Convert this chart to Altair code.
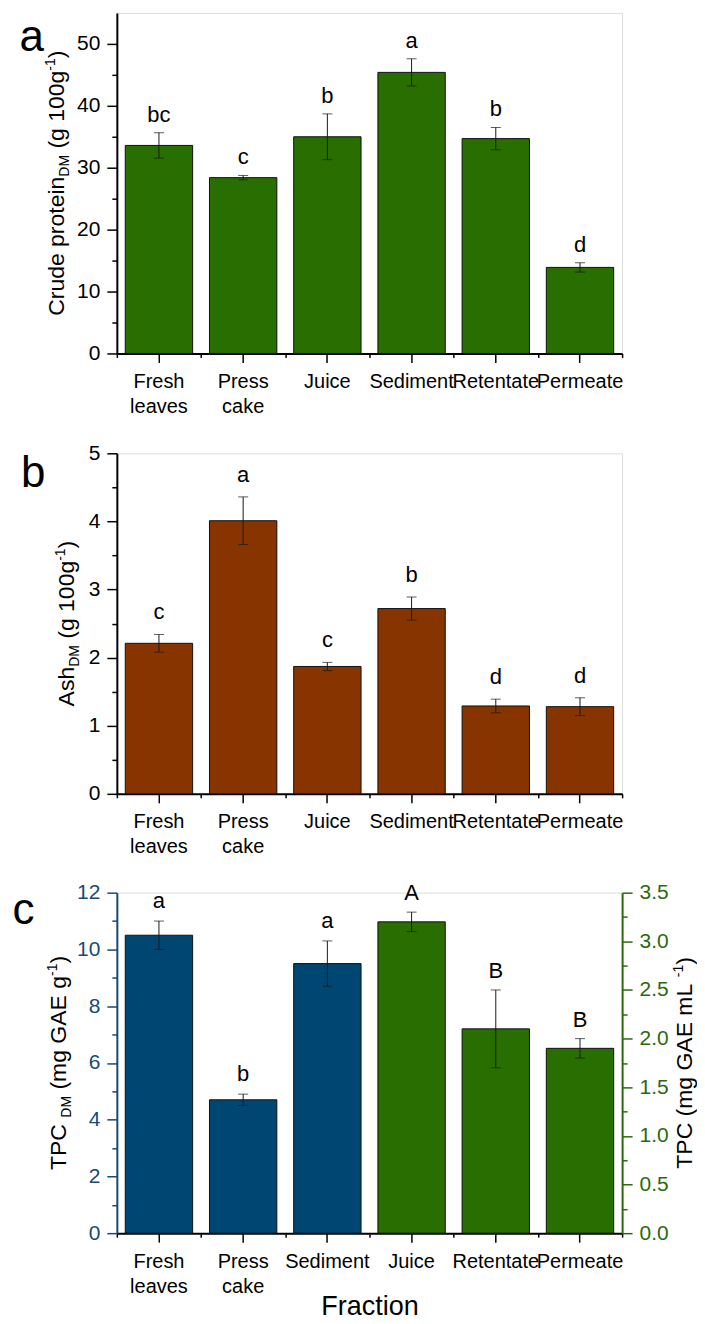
import altair as alt
import pandas as pd

# ---------------- data ----------------
cats_ab = ["Fresh leaves", "Press cake", "Juice", "Sediment", "Retentate", "Permeate"]
protein = [33.6, 28.4, 35.0, 45.4, 34.7, 13.9]
protein_err = [2.05, 0.35, 3.7, 2.2, 1.8, 0.75]
protein_letters = ["bc", "c", "b", "a", "b", "d"]

ash = [2.21, 4.01, 1.87, 2.72, 1.29, 1.28]
ash_err = [0.13, 0.35, 0.06, 0.17, 0.10, 0.13]
ash_letters = ["c", "a", "c", "b", "d", "d"]

cats_c = ["Fresh leaves", "Press cake", "Sediment", "Juice", "Retentate", "Permeate"]
tpc_dm_cats = ["Fresh leaves", "Press cake", "Sediment"]
tpc_dm = [10.5, 4.7, 9.5]
tpc_dm_err = [0.5, 0.2, 0.8]
tpc_dm_letters = ["a", "b", "a"]
tpc_ml_cats = ["Juice", "Retentate", "Permeate"]
tpc_ml = [3.2, 2.1, 1.9]
tpc_ml_err = [0.1, 0.4, 0.1]
tpc_ml_letters = ["A", "B", "B"]

a_major = [0, 10, 20, 30, 40, 50]
a_minor = [5, 15, 25, 35, 45]
b_major = [0, 1, 2, 3, 4, 5]
b_minor = [0.5, 1.5, 2.5, 3.5, 4.5]
cl_major = [0, 2, 4, 6, 8, 10, 12]
cl_minor = [1, 3, 5, 7, 9, 11]
cr_major = [0, 0.5, 1.0, 1.5, 2.0, 2.5, 3.0, 3.5]
cr_minor = [0.25, 0.75, 1.25, 1.75, 2.25, 2.75, 3.25]

# ---------------- style ----------------
FONT = "Liberation Sans"
W, H = 506, 341
GREEN = "#296E01"
BROWN = "#873400"
BLUE = "#004673"
BLUE_AX = "#174A76"
GREEN_AX = "#2B6A0C"

WIDTHS = {" ": 278, "(": 333, ")": 333, "-": 333, "0": 556, "1": 556, "A": 667, "C": 722,
          "D": 722, "E": 667, "G": 778, "L": 556, "M": 833, "P": 667, "T": 611, "a": 556,
          "c": 500, "d": 556, "e": 556, "g": 556, "h": 556, "i": 222, "m": 833, "n": 556,
          "o": 556, "p": 556, "r": 333, "s": 500, "t": 278, "u": 556}


def tw(s, size):
    return sum(WIDTHS.get(ch, 556) for ch in s) * size / 1000.0


def rich_title(segments, x_base, center_y, size=23, small=14, sub_shift=5, sup_shift=-9):
    sizes = [size if k == "n" else small for _, k in segments]
    widths = [tw(t, s) for (t, _), s in zip(segments, sizes)]
    total = sum(widths)
    y = center_y + total / 2.0
    out = []
    for (t, k), s, w in zip(segments, sizes, widths):
        lead = len(t) - len(t.lstrip(" "))
        shown = t.strip(" ")
        dx = {"n": 0, "sub": sub_shift, "sup": sup_shift}[k]
        ystart = y - tw(" " * lead, s)
        out.append(
            alt.Chart(alt.Data(values=[{}]))
            .mark_text(text=shown, font=FONT, fontSize=s, angle=270, align="left",
                       baseline="alphabetic", color="black")
            .encode(x=alt.value(x_base + dx), y=alt.value(ystart))
        )
        y -= w
    return out


def panel_label(txt, x, y):
    return (alt.Chart(alt.Data(values=[{}]))
            .mark_text(text=txt, font=FONT, fontSize=44, align="left", baseline="alphabetic",
                       color="black")
            .encode(x=alt.value(x), y=alt.value(y)))


def series_layers(cats_all, cats, vals, errs, labs, domain, fill, major, minor, orient,
                  axcolor, fmt, dy, with_x, x_title=None):
    df = pd.DataFrame({"cat": cats, "val": vals, "err": errs, "lab": labs})

    def xs(axis):
        return alt.X("cat:N", sort=cats_all,
                     scale=alt.Scale(domain=cats_all, paddingInner=0, paddingOuter=0),
                     axis=axis)

    def ys(field, axis):
        return alt.Y(f"{field}:Q", scale=alt.Scale(domain=domain, nice=False, zero=True),
                     axis=axis)

    main_y = alt.Axis(orient=orient, values=major, format=fmt, title=None, grid=False,
                      tickSize=10, tickWidth=1.5, tickColor=axcolor, domainColor=axcolor,
                      domainWidth=2, labelColor=axcolor, labelFont=FONT, labelFontSize=21,
                      labelPadding=7)
    minor_y = alt.Axis(orient=orient, values=minor, title=None, grid=False, labels=False,
                       domain=False, tickSize=5, tickWidth=1.5, tickColor=axcolor)
    if with_x:
        xkw = dict(orient="bottom", labelExpr="split(datum.label, ' ')", labelAngle=0,
                   labelFont=FONT, labelFontSize=20, labelLineHeight=25, labelPadding=9,
                   labelOverlap=False, tickSize=9, tickWidth=1.5, tickColor="black",
                   domainColor="black", domainWidth=2, labelColor="black", grid=False)
        if x_title:
            xkw.update(title=x_title, titleFont=FONT, titleFontSize=27,
                       titleFontWeight="normal", titlePadding=-3, titleColor="black")
        else:
            xkw.update(title=None)
        main_x = alt.Axis(**xkw)
        minor_x = alt.Axis(orient="bottom", tickBand="extent", title=None, labels=False,
                           domain=False, tickSize=4, tickWidth=1.5, tickColor="black",
                           grid=False)
    else:
        main_x = None
        minor_x = None

    base = alt.Chart(df)
    bars = base.mark_bar(width=alt.RelativeBandSize(0.8), color=fill, stroke="#111111",
                         strokeWidth=1).encode(x=xs(main_x), y=ys("val", main_y))
    ghost = base.mark_bar(opacity=0).encode(x=xs(minor_x), y=ys("val", minor_y))
    b2 = base.transform_calculate(lo="datum.val - datum.err", hi="datum.val + datum.err")
    rule = b2.mark_rule(color="#1a1a1a", strokeWidth=1).encode(
        x=xs(None), y=ys("lo", None), y2="hi:Q")
    cap_hi = b2.mark_tick(color="#1a1a1a", size=10, thickness=1).encode(
        x=xs(None), y=ys("hi", None))
    cap_lo = b2.mark_tick(color="#1a1a1a", size=10, thickness=1).encode(
        x=xs(None), y=ys("lo", None))
    letters = b2.mark_text(font=FONT, fontSize=22, baseline="alphabetic", dy=dy,
                           color="black").encode(x=xs(None), y=ys("hi", None), text="lab:N")
    return [bars, ghost, rule, cap_hi, cap_lo, letters]


# ---------------- panel a ----------------
layers_a = series_layers(cats_ab, cats_ab, protein, protein_err, protein_letters, [0, 55],
                         GREEN, a_major, a_minor, "left", "black", "d", -11, True)
title_a = rich_title([("Crude protein", "n"), ("DM", "sub"), (" (g 100g", "n"),
                      ("-1", "sup"), (")", "n")], -53, H / 2)
panel_a = (alt.layer(*layers_a, *title_a, panel_label("a", -97.5, 38))
           .resolve_axis(x="independent", y="independent")
           .properties(width=W, height=H))

# ---------------- panel b ----------------
layers_b = series_layers(cats_ab, cats_ab, ash, ash_err, ash_letters, [0, 5],
                         BROWN, b_major, b_minor, "left", "black", "d", -15, True)
title_b = rich_title([("Ash", "n"), ("DM", "sub"), (" (g 100g", "n"),
                      ("-1", "sup"), (")", "n")], -43.3, H / 2)
panel_b = (alt.layer(*layers_b, *title_b, panel_label("b", -96, 34))
           .resolve_axis(x="independent", y="independent")
           .properties(width=W, height=H))

# ---------------- panel c ----------------
layers_cl = series_layers(cats_c, tpc_dm_cats, tpc_dm, tpc_dm_err, tpc_dm_letters, [0, 12],
                          BLUE, cl_major, cl_minor, "left", BLUE_AX, "d", -13, True,
                          x_title="Fraction")
layers_cr = series_layers(cats_c, tpc_ml_cats, tpc_ml, tpc_ml_err, tpc_ml_letters, [0, 3.5],
                          GREEN, cr_major, cr_minor, "right", GREEN_AX, ".1f", -12, False)
title_cl = rich_title([("TPC ", "n"), ("DM", "sub"), (" (mg GAE g", "n"),
                       ("-1", "sup"), (")", "n")], -51, H / 2)
title_cr = rich_title([("TPC  (mg GAE mL", "n"), ("-1", "sup"), (")", "n")], W + 69.5, H / 2)
panel_c = (alt.layer(*layers_cl, *layers_cr, *title_cl, *title_cr,
                     panel_label("c", -104.5, 31))
           .resolve_scale(y="independent")
           .resolve_axis(x="independent", y="independent")
           .properties(width=W, height=H))

top_two = alt.vconcat(panel_a, panel_b, spacing=24)
chart = (alt.vconcat(top_two, panel_c, spacing=23)
         .properties(padding={"left": 4, "top": 3, "right": 0, "bottom": 0})
         .configure_view(stroke="black", strokeWidth=2)
         .configure(font=FONT))

chart.save("out.html", embed_options={"renderer": "svg", "actions": False})
